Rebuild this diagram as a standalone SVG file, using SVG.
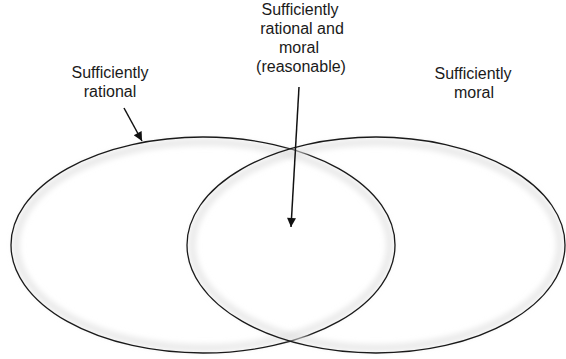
<svg xmlns="http://www.w3.org/2000/svg" width="566" height="359" viewBox="0 0 566 359">
<style>
.lbl{font-family:"Liberation Sans",Arial,Helvetica,sans-serif;font-size:16px;fill:#1a1a1a;text-anchor:middle}
.ell{fill:none;stroke:#1a1a1a;stroke-width:1.3}
.glow{fill:none;stroke:#e0e0e0;stroke-width:5;filter:url(#blur)}
.conn{stroke:#111;stroke-width:1.5;fill:none;marker-end:url(#ah)}
</style>
<defs>
<filter id="blur" x="-10%" y="-10%" width="120%" height="120%"><feGaussianBlur stdDeviation="3"/></filter>
<marker id="ah" viewBox="0 0 10 10" refX="10" refY="5" markerWidth="12" markerHeight="9" markerUnits="userSpaceOnUse" orient="auto">
<path d="M0,0 L10,5 L0,10 Z" fill="#111"/>
</marker>
</defs>
<rect width="566" height="359" fill="#fff"/>
<g id="rational">
<ellipse class="glow" cx="203" cy="245" rx="187" ry="103"/>
<ellipse class="ell" cx="203" cy="245" rx="192" ry="108"/>
</g>
<g id="moral">
<ellipse class="glow" cx="376" cy="245" rx="184" ry="103"/>
<ellipse class="ell" cx="376" cy="245" rx="189" ry="108"/>
</g>
<g id="label-rational">
<text class="lbl" x="110" y="78">Sufficiently</text>
<text class="lbl" x="110" y="97">rational</text>
</g>
<g id="label-moral">
<text class="lbl" x="473" y="79">Sufficiently</text>
<text class="lbl" x="474" y="98">moral</text>
</g>
<g id="label-both">
<text class="lbl" x="300" y="15">Sufficiently</text>
<text class="lbl" x="302" y="34">rational and</text>
<text class="lbl" x="299" y="53">moral</text>
<text class="lbl" x="301" y="72">(reasonable)</text>
</g>
<g id="connectors">
<line class="conn" x1="124" y1="108" x2="142" y2="141"/>
<line class="conn" x1="299" y1="87" x2="291" y2="227"/>
</g>
</svg>
